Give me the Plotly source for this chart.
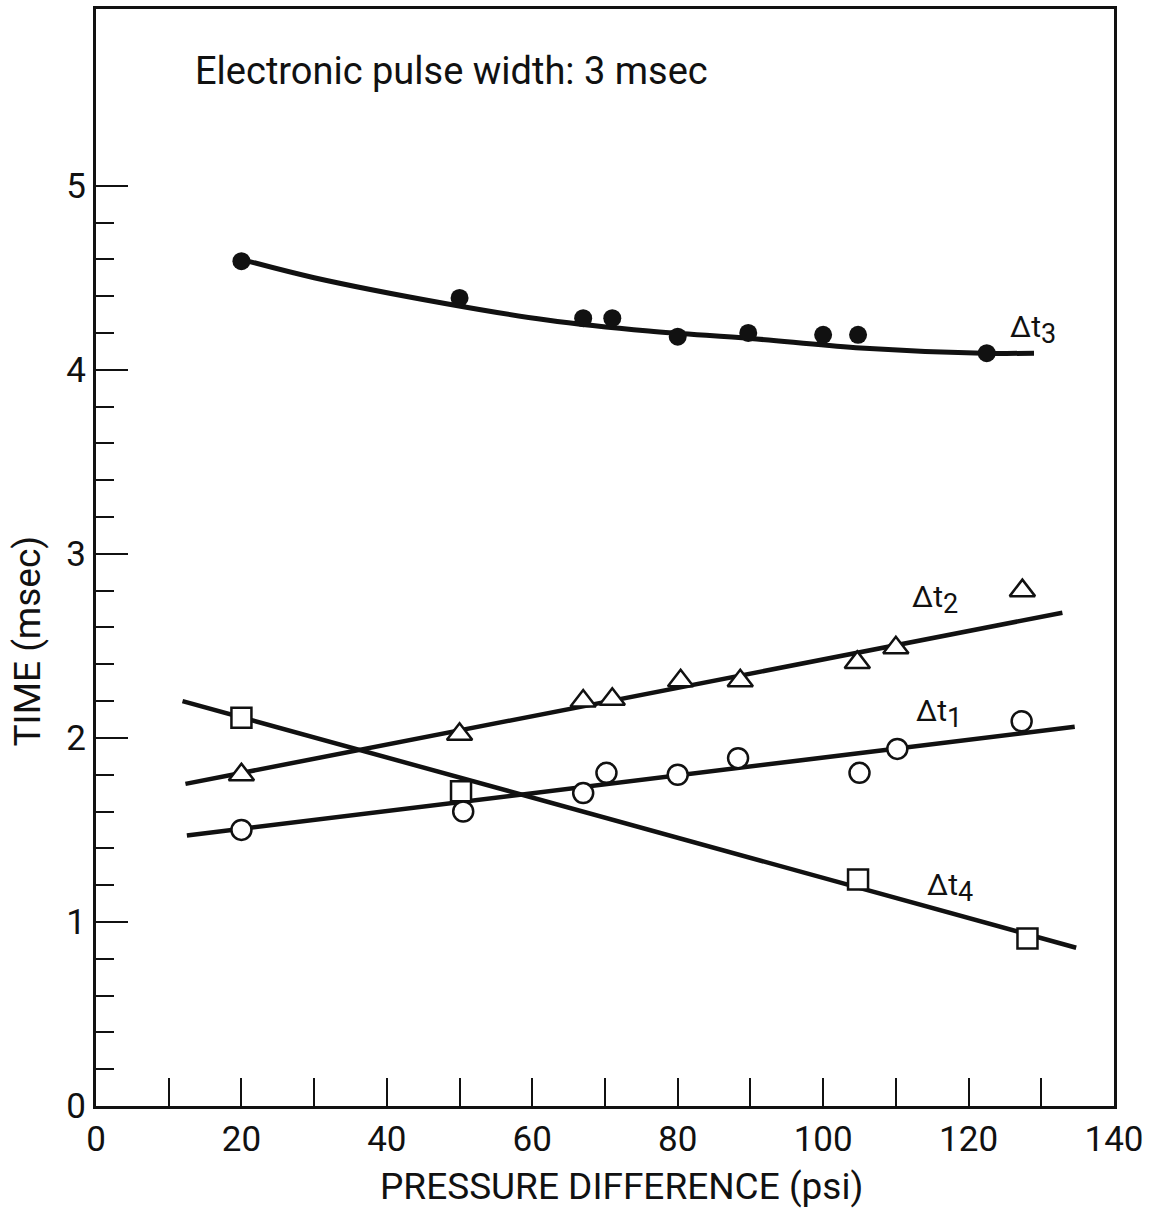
import plotly.graph_objects as go

# Measured points: pressure difference (psi) vs. time (msec)
dt3_x = [20, 50, 67, 71, 80, 89.7, 100, 104.8, 122.5]
dt3_y = [4.59, 4.39, 4.28, 4.28, 4.18, 4.20, 4.19, 4.19, 4.09]

dt2_x = [20, 50, 67, 71, 80.4, 88.6, 104.7, 110, 127.4]
dt2_y = [1.80, 2.02, 2.20, 2.21, 2.31, 2.31, 2.41, 2.49, 2.80]

dt1_x = [20, 50.5, 67, 70.2, 80, 88.3, 105, 110.2, 127.3]
dt1_y = [1.50, 1.60, 1.70, 1.81, 1.80, 1.89, 1.81, 1.94, 2.09]

dt4_x = [20, 50.2, 104.8, 128.1]
dt4_y = [2.11, 1.71, 1.23, 0.91]

# Hand-fitted curves through each series
fit3_x = [20, 30, 48, 62, 76, 90, 104.5, 122, 129]
fit3_y = [4.60, 4.50, 4.36, 4.27, 4.21, 4.17, 4.12, 4.09, 4.09]

fit2_x = [12.3, 132.9]
fit2_y = [1.75, 2.68]

fit1_x = [12.5, 134.6]
fit1_y = [1.47, 2.06]

fit4_x = [11.9, 134.8]
fit4_y = [2.20, 0.86]

x_ticks = [0, 20, 40, 60, 80, 100, 120, 140]
x_ticktext = [str(v) for v in x_ticks]
x_minor = [10, 30, 50, 70, 90, 110, 130]
y_ticks = [0, 1, 2, 3, 4, 5]
y_minor = [round(0.2 * i, 1) for i in range(0, 26)]

FONT = "Roboto"
INK = "#111111"

fig = go.Figure()

line_style = dict(color=INK, width=4.5)
fig.add_trace(go.Scatter(x=fit3_x, y=fit3_y, mode="lines",
                         line=dict(color=INK, width=5, shape="spline", smoothing=1.0)))
fig.add_trace(go.Scatter(x=fit2_x, y=fit2_y, mode="lines", line=line_style))
fig.add_trace(go.Scatter(x=fit1_x, y=fit1_y, mode="lines", line=line_style))
fig.add_trace(go.Scatter(x=fit4_x, y=fit4_y, mode="lines", line=line_style))

open_line = dict(color=INK, width=2.5)
fig.add_trace(go.Scatter(x=dt3_x, y=dt3_y, mode="markers",
                         marker=dict(symbol="circle", size=18, color=INK,
                                     line=dict(color=INK, width=0))))
fig.add_trace(go.Scatter(x=dt2_x, y=dt2_y, mode="markers",
                         marker=dict(symbol="triangle-up", size=22, color="white",
                                     line=open_line)))
fig.add_trace(go.Scatter(x=dt1_x, y=dt1_y, mode="markers",
                         marker=dict(symbol="circle", size=20, color="white",
                                     line=open_line)))
fig.add_trace(go.Scatter(x=dt4_x, y=dt4_y, mode="markers",
                         marker=dict(symbol="square", size=20, color="white",
                                     line=open_line)))

# Series labels
sub = "<sub><span style='font-size:27px'>{}</span></sub>"
labels = [
    ("Δt" + sub.format(3), 128.9, 4.22),
    ("Δt" + sub.format(2), 115.4, 2.75),
    ("Δt" + sub.format(1), 116.0, 2.135),
    ("Δt" + sub.format(4), 117.4, 1.187),
]
for txt, lx, ly in labels:
    fig.add_annotation(x=lx, y=ly, xref="x", yref="y", text=txt, showarrow=False,
                       font=dict(family=FONT, size=30, color=INK))

fig.add_annotation(x=0.0951, y=0.9436, xref="paper", yref="paper",
                   text="Electronic pulse width: 3 msec",
                   showarrow=False, xanchor="left", yanchor="middle",
                   font=dict(family=FONT, size=38, color=INK))

axis_font = dict(family=FONT, size=35, color=INK)

fig.update_layout(
    width=1150, height=1211,
    margin=dict(l=96, r=34, t=6, b=105),
    paper_bgcolor="white", plot_bgcolor="white",
    showlegend=False,
    xaxis=dict(
        range=[0, 140], tickmode="array", tickvals=x_ticks, ticktext=x_ticktext,
        ticks="inside", ticklen=28, tickwidth=2, tickcolor=INK,
        minor=dict(tickmode="array", tickvals=x_minor, ticks="inside",
                   ticklen=28, tickwidth=2, tickcolor=INK, showgrid=False),
        showline=True, linecolor=INK, linewidth=3, mirror=True,
        showgrid=False, zeroline=False, tickfont=axis_font,
    ),
    yaxis=dict(
        range=[0, 5.96], tickmode="array", tickvals=y_ticks,
        ticks="inside", ticklen=32, tickwidth=2, tickcolor=INK,
        minor=dict(tickmode="array", tickvals=y_minor, ticks="inside",
                   ticklen=18, tickwidth=2, tickcolor=INK, showgrid=False),
        showline=True, linecolor=INK, linewidth=3, mirror=True,
        showgrid=False, zeroline=False, tickfont=axis_font,
    ),
)

# Axis titles placed as annotations (paper coordinates)
fig.add_annotation(x=0.516, y=0, xref="paper", yref="paper", yshift=-80,
                   xanchor="center", yanchor="middle",
                   text="PRESSURE DIFFERENCE (psi)", showarrow=False,
                   font=dict(family=FONT, size=37, color=INK))
fig.add_annotation(x=0, y=0.5, xref="paper", yref="paper", xshift=-69, yshift=-84,
                   xanchor="center", yanchor="middle",
                   text="TIME (msec)", showarrow=False, textangle=-90,
                   font=dict(family=FONT, size=37, color=INK))

fig.write_html("out.html")
